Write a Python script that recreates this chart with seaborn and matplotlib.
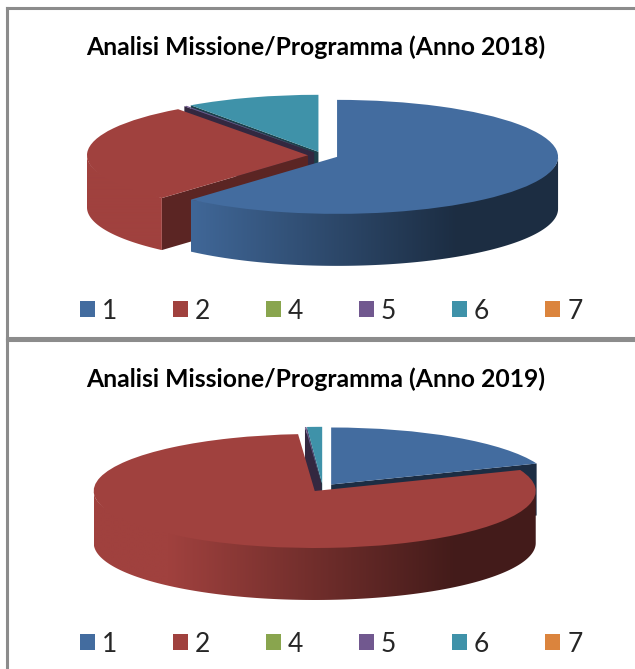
import numpy as np
import matplotlib
matplotlib.use("Agg")
import matplotlib.pyplot as plt
import matplotlib.colors as mcolors
from matplotlib.patches import Polygon
import seaborn as sns

sns.set_theme(style="white")
plt.rcParams['font.family'] = ['Lato', 'DejaVu Sans']

W, H = 635, 669

labels = ["1", "2", "4", "5", "6", "7"]
values_2018 = [61.5, 28.5, 0, 0.2, 9.8, 0]
values_2019 = [19.0, 79.8, 0, 0.1, 1.1, 0]
title_2018 = "Analisi Missione/Programma (Anno 2018)"
title_2019 = "Analisi Missione/Programma (Anno 2019)"

palette = sns.color_palette(["#436c9f", "#a0413e", "#89a54e", "#71588f", "#3f92a9", "#db843d"])
face_shade = [0.42, 0.57, 0.45, 0.45, 0.45, 0.45]

# pixel sizes of the squashed pie
RX, RY, DEPTH = 221.0, 57.0, 52.0
EXPLODE = 0.068
GRAY = "#8c8c8c"


def draw_walls(ax, w, idx, depth, z):
    cx, cy = w.center
    base = np.array(mcolors.to_rgb(palette[idx]))
    dark = base * 0.42
    # flat side faces of the cut
    for th, normal in [(w.theta1, w.theta1 - 90), (w.theta2, w.theta2 + 90)]:
        if np.sin(np.radians(normal)) < 0:
            x = cx + w.r * np.cos(np.radians(th))
            y = cy + w.r * np.sin(np.radians(th))
            ax.fill([cx, x, x, cx], [cy, y, y - depth, cy - depth],
                    color=base * face_shade[idx], lw=0, zorder=z)
    # round outer wall, only the half that faces us
    for k in [-1, 0, 1]:
        a = max(w.theta1, 180 + 360 * k)
        b = min(w.theta2, 360 + 360 * k)
        if b <= a:
            continue
        n = 200
        th = np.radians(np.linspace(a, b, n))
        x = cx + w.r * np.cos(th)
        y = cy + w.r * np.sin(th)
        # top edge pushed up under the top face so no seam shows, not at the ends
        taper = np.minimum(1, np.minimum(np.arange(n), n - 1 - np.arange(n)) / 20)
        yi = y + 0.05 * np.abs(np.sin(th)) * taper
        outline = np.column_stack([np.r_[x, x[::-1]], np.r_[yi, y[::-1] - depth]])
        # gradient goes dark towards the right, clipped to the wall shape
        gx = np.linspace(x.min(), x.max(), 300)
        t = np.clip((gx + 0.7) / 1.3, 0, 1)[:, None]
        img = (base * (1 - t) + dark * t)[None, :, :]
        im = ax.imshow(img, extent=[x.min(), x.max(), y.min() - depth, yi.max()],
                       aspect="auto", zorder=z, interpolation="bilinear")
        im.set_clip_path(Polygon(outline, closed=True, transform=ax.transData))


def pie_panel(box, values, title, order, cx, cy, title_y, legend_y, spines):
    left, top, right, bottom = box
    ax = fig.add_axes([left / W, 1 - bottom / H, (right - left) / W, (bottom - top) / H])
    wedges, _ = ax.pie(values, colors=palette, startangle=90, counterclock=False,
                       explode=[EXPLODE] * len(values), wedgeprops={"linewidth": 0})

    for n, idx in enumerate(order):
        draw_walls(ax, wedges[idx], idx, DEPTH / RY, 2 + n * 2)
        wedges[idx].set_zorder(3 + n * 2)

    ax.set_aspect("auto")
    ax.set_xlim((left - cx) / RX, (right - cx) / RX)
    ax.set_ylim((cy - bottom) / RY, (cy - top) / RY)
    ax.set_xticks([])
    ax.set_yticks([])
    ax.set_frame_on(True)
    for name, sp in ax.spines.items():
        sp.set_visible(name in spines)
        sp.set_color(GRAY)
        sp.set_linewidth(2.2)

    ax.text((316 - left) / (right - left), (bottom - title_y) / (bottom - top), title,
            transform=ax.transAxes, ha="center", va="center",
            fontsize=17.8, fontweight="bold", color="black")
    ax.legend(wedges, labels, ncol=6, frameon=False, loc="center",
              bbox_to_anchor=((331 - left) / (right - left), (bottom - legend_y) / (bottom - top)),
              fontsize=19, handlelength=0.57, handleheight=0.57,
              handletextpad=0.26, columnspacing=2.12)
    return ax


fig = plt.figure(figsize=(W / 100, H / 100), dpi=100, facecolor="white")

pie_panel((7, 8, 635, 338), values_2018, title_2018, [4, 3, 1, 0], 323, 155.5, 47, 311,
          ["left", "top", "bottom"])
pie_panel((7, 340, 635, 675), values_2019, title_2019, [0, 4, 3, 1], 322.7, 487.7, 379, 644,
          ["left", "top"])

fig.savefig("out.png", dpi=100)
